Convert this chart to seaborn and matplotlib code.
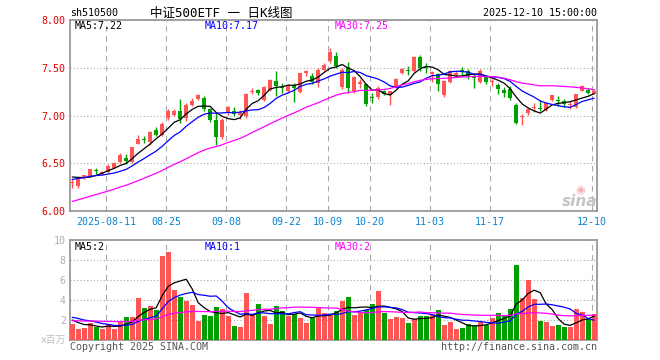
import numpy as np
import pandas as pd
import matplotlib
matplotlib.use("Agg")
import matplotlib.pyplot as plt
import seaborn as sns

# ---------------- data ----------------
open_ = [6.29, 6.26, 6.345, 6.36, 6.425, 6.385, 6.41, 6.455, 6.51, 6.56,
         6.51, 6.705, 6.745, 6.72, 6.845, 6.80, 6.97, 7.01, 7.05, 6.97,
         7.105, 7.175, 7.18, 7.07, 6.95, 6.77, 7.03, 7.045, 7.01, 7.00,
         7.25, 7.265, 7.165, 7.27, 7.36, 7.295, 7.26, 7.32, 7.245, 7.45,
         7.41, 7.34, 7.48, 7.57, 7.62, 7.30, 7.51, 7.26, 7.335, 7.33,
         7.19, 7.19, 7.255, 7.21, 7.30, 7.44, 7.475, 7.47, 7.61, 7.505,
         7.43, 7.43, 7.21, 7.35, 7.42, 7.48, 7.47, 7.395, 7.35, 7.40,
         7.35, 7.315, 7.27, 7.28, 7.105, 6.985, 7.03, 7.075, 7.075, 7.055,
         7.16, 7.155, 7.15, 7.11, 7.09, 7.26, 7.27, 7.23]
close = [6.295, 6.34, 6.375, 6.435, 6.42, 6.41, 6.47, 6.50, 6.585, 6.525,
         6.665, 6.75, 6.74, 6.83, 6.80, 6.915, 7.05, 7.05, 6.965, 7.105,
         7.15, 7.21, 7.065, 6.95, 6.78, 6.95, 7.09, 7.015, 7.04, 7.23,
         7.255, 7.235, 7.30, 7.37, 7.31, 7.29, 7.32, 7.29, 7.44, 7.455,
         7.35, 7.48, 7.53, 7.66, 7.52, 7.48, 7.29, 7.40, 7.34, 7.12,
         7.185, 7.29, 7.22, 7.255, 7.38, 7.49, 7.47, 7.61, 7.50, 7.50,
         7.455, 7.33, 7.36, 7.47, 7.45, 7.46, 7.40, 7.39, 7.47, 7.35,
         7.355, 7.28, 7.235, 7.18, 6.92, 6.99, 7.07, 7.08, 7.065, 7.13,
         7.21, 7.15, 7.12, 7.115, 7.22, 7.31, 7.24, 7.26]
high = [6.33, 6.345, 6.38, 6.44, 6.45, 6.42, 6.49, 6.51, 6.61, 6.60,
        6.67, 6.80, 6.785, 6.835, 6.875, 6.93, 7.07, 7.07, 7.17, 7.13,
        7.18, 7.225, 7.205, 7.08, 7.03, 6.97, 7.10, 7.085, 7.06, 7.24,
        7.29, 7.28, 7.31, 7.38, 7.47, 7.34, 7.33, 7.34, 7.45, 7.48,
        7.45, 7.50, 7.55, 7.71, 7.66, 7.50, 7.56, 7.41, 7.38, 7.335,
        7.24, 7.31, 7.27, 7.26, 7.39, 7.50, 7.52, 7.62, 7.63, 7.55,
        7.47, 7.44, 7.37, 7.48, 7.47, 7.51, 7.49, 7.43, 7.49, 7.41,
        7.38, 7.34, 7.30, 7.31, 7.13, 7.02, 7.08, 7.13, 7.16, 7.145,
        7.215, 7.20, 7.17, 7.15, 7.23, 7.32, 7.29, 7.28]
low = [6.24, 6.245, 6.34, 6.355, 6.385, 6.375, 6.40, 6.45, 6.50, 6.49,
       6.50, 6.70, 6.715, 6.69, 6.79, 6.79, 6.95, 7.00, 6.92, 6.94,
       7.10, 7.16, 7.045, 6.93, 6.69, 6.75, 7.01, 6.99, 6.96, 6.97,
       7.22, 7.21, 7.15, 7.26, 7.20, 7.24, 7.25, 7.14, 7.24, 7.41,
       7.33, 7.30, 7.47, 7.55, 7.50, 7.28, 7.24, 7.24, 7.29, 7.10,
       7.13, 7.17, 7.21, 7.105, 7.29, 7.43, 7.42, 7.46, 7.47, 7.45,
       7.35, 7.26, 7.19, 7.34, 7.40, 7.42, 7.38, 7.29, 7.34, 7.33,
       7.31, 7.22, 7.19, 7.16, 6.91, 6.90, 7.01, 7.04, 7.05, 7.045,
       7.155, 7.10, 7.09, 7.07, 7.08, 7.255, 7.22, 7.22]
volume = [1.6, 1.1, 1.23, 1.73, 1.33, 1.1, 1.57, 1.1, 1.8, 2.3,
          2.3, 4.2, 3.2, 3.4, 3.0, 8.4, 8.8, 5.0, 4.3, 3.9,
          3.5, 1.93, 2.5, 2.4, 3.3, 3.1, 2.4, 1.4, 1.3, 4.73,
          2.47, 3.6, 2.4, 1.6, 3.4, 2.9, 2.4, 2.6, 2.2, 1.73,
          2.2, 3.3, 2.7, 2.5, 2.9, 3.9, 4.3, 2.5, 2.8, 3.0,
          3.6, 4.9, 2.7, 2.1, 2.3, 2.2, 1.7, 2.1, 2.4, 2.4,
          2.6, 3.0, 1.5, 1.8, 1.1, 1.2, 1.6, 1.4, 1.9, 1.5,
          2.2, 2.7, 2.5, 3.1, 7.5, 4.2, 6.0, 4.1, 1.9, 1.8,
          1.4, 1.5, 1.3, 1.3, 3.1, 2.8, 2.1, 2.6]
# sessions before the first visible candle (estimated from the MA lines' starting levels)
prior_close = [5.82, 5.84, 5.87, 5.85, 5.88, 5.90, 5.93, 5.92, 5.95, 5.97,
               5.99, 6.00, 6.02, 6.05, 6.04, 6.08, 6.11, 6.13, 6.16, 6.19,
               6.24, 6.28, 6.31, 6.33, 6.365, 6.36, 6.39, 6.40, 6.335]
prior_volume = [1.5, 1.9, 1.6, 1.4, 2.0, 1.7, 1.5, 1.8, 2.2, 1.6,
                1.4, 1.7, 1.9, 2.1, 1.6, 1.8, 1.7, 2.0, 1.9, 1.9,
                2.3, 2.8, 2.5, 2.6, 2.5, 2.4, 2.2, 1.9, 1.9]

tick_pos = [6, 16, 26, 36, 43, 50, 60, 70, 87]
tick_labels = ['2025-08-11', '08-25', '09-08', '09-22', '10-09', '10-20',
               '11-03', '11-17', '12-10']
price_ticks = [6.0, 6.5, 7.0, 7.5, 8.0]
vol_ticks = [2, 4, 6, 8, 10]
price_ma_labels = ['MA5:7.22', 'MA10:7.17', 'MA30:7.25']
vol_ma_labels = ['MA5:2', 'MA10:1', 'MA30:2']

# ---------------- style ----------------
sns.set_style("white")
MONO = ['DejaVu Sans Mono', 'Noto Sans CJK SC']
plt.rcParams['font.family'] = MONO
RED = '#ff5555'
GREEN = '#00a000'
MA_COLORS = ['#000000', '#0000ff', '#ff00ff']
FRAME = '#999999'
GRID = '#aaaaaa'

W, H = 660, 360
fig = plt.figure(figsize=(6.6, 3.6), dpi=100)
fig.patch.set_facecolor('white')
ax1 = fig.add_axes([70 / W, 1 - 211 / H, 527 / W, 191 / H])
ax2 = fig.add_axes([70 / W, 1 - 340 / H, 527 / W, 100 / H])

n = len(close)
idx = np.arange(n)
o = np.array(open_); c = np.array(close); hi = np.array(high); lo = np.array(low)
up = c >= o
cols = np.where(up, RED, GREEN)

full_close = pd.Series(prior_close + close)
full_vol = pd.Series(prior_volume + volume)
k = len(prior_close)
ma_price = [full_close.rolling(w).mean().to_numpy()[k:] for w in (5, 10, 30)]
ma_vol = [full_vol.rolling(w).mean().to_numpy()[len(prior_volume):] for w in (5, 10, 30)]

# ---------------- price panel ----------------
ax1.vlines(idx, lo, hi, colors=cols, lw=1.0, zorder=3)
body = np.maximum(np.abs(c - o), 0.011)
ax1.bar(idx, body, bottom=np.minimum(o, c), width=0.75, color=cols,
        linewidth=0, zorder=4)
for ma, col in zip(ma_price, MA_COLORS):
    sns.lineplot(x=idx, y=ma, ax=ax1, color=col, lw=0.9, zorder=6)

ax1.set_xlim(-0.37, 87.47)
ax1.set_ylim(6.0, 8.0)
ax1.set_yticks(price_ticks)
ax1.set_yticklabels([f'{t:.2f}' for t in price_ticks], color='#e00000', fontsize=7.2)
ax1.set_xticks(np.array(tick_pos) - 0.33)
ax1.set_xticklabels(tick_labels, color='#0a84d0', fontsize=7.2)
ax1.tick_params(axis='both', length=0)
ax1.tick_params(axis='y', pad=3)
ax1.tick_params(axis='x', pad=4)
ax1.set_xlabel(''); ax1.set_ylabel('')

# ---------------- volume panel ----------------
vdf = pd.DataFrame({'idx': idx, 'vol': volume,
                    'dir': np.where(up, 'up', 'down')})
sns.barplot(data=vdf, x='idx', y='vol', hue='dir',
            palette={'up': RED, 'down': GREEN}, dodge=False, width=0.82,
            saturation=1, errorbar=None, legend=False, ax=ax2, zorder=3,
            linewidth=0)
for ma, col in zip(ma_vol, MA_COLORS):
    ax2.plot(idx, ma, color=col, lw=0.9, zorder=6)

ax2.set_xlim(-0.37, 87.47)
ax2.set_ylim(0, 10)
ax2.set_yticks(vol_ticks)
ax2.set_yticklabels([str(t) for t in vol_ticks], color='#b0b0b0', fontsize=7.2)
ax2.set_xticks(np.array(tick_pos) - 0.33)
ax2.tick_params(axis='x', labelbottom=False, length=0)
ax2.tick_params(axis='y', length=0, pad=3)
ax2.set_xlabel(''); ax2.set_ylabel('')

for ax in (ax1, ax2):
    ax.set_facecolor('white')
    ax.set_axisbelow(True)
    ax.xaxis.grid(True, color=GRID, lw=0.8, linestyle=(0, (5, 4)))
    ax.yaxis.grid(True, color=GRID, lw=0.8, linestyle=(0, (1, 2)))
    for s in ax.spines.values():
        s.set_visible(True)
        s.set_color(FRAME)
        s.set_linewidth(1.3)

# ---------------- texts ----------------
def px(x, y):
    return x / W, 1 - y / H

fig.text(*px(70, 13), 'sh510500', fontsize=7.2, color='black', va='center', ha='left')
fig.text(*px(150, 13), '中证500ETF 一 日K线图', fontsize=9, color='black',
         va='center', ha='left', family=MONO)
fig.text(*px(597, 13), '2025-12-10 15:00:00', fontsize=7.2, color='black',
         va='center', ha='right')
for lab, col, x in zip(price_ma_labels, MA_COLORS, (75, 205, 335)):
    fig.text(*px(x, 26), lab, fontsize=7.2, color=col, va='center', ha='left')
for lab, col, x in zip(vol_ma_labels, MA_COLORS, (75, 205, 335)):
    fig.text(*px(x, 246.5), lab, fontsize=7.2, color=col, va='center', ha='left')
fig.text(*px(66, 340), 'x百万', fontsize=7, color='#c0c0c0', va='center',
         ha='right', family=MONO)
fig.text(*px(70, 347), 'Copyright 2025 SINA.COM', fontsize=7.2, color='#555555',
         va='center', ha='left')
fig.text(*px(597, 347), 'http://finance.sina.com.cn', fontsize=7.2,
         color='#555555', va='center', ha='right')
# sina watermark
fig.text(*px(580, 190), '◉', fontsize=8, color='#f2b4b4', va='center',
         ha='center', family='DejaVu Sans')
fig.text(*px(597, 201), 'sina', fontsize=11, color='#c4c4c4', va='center',
         ha='right', fontweight='bold', style='italic', family='DejaVu Sans')

fig.savefig('out.png', dpi=100, facecolor='white')
